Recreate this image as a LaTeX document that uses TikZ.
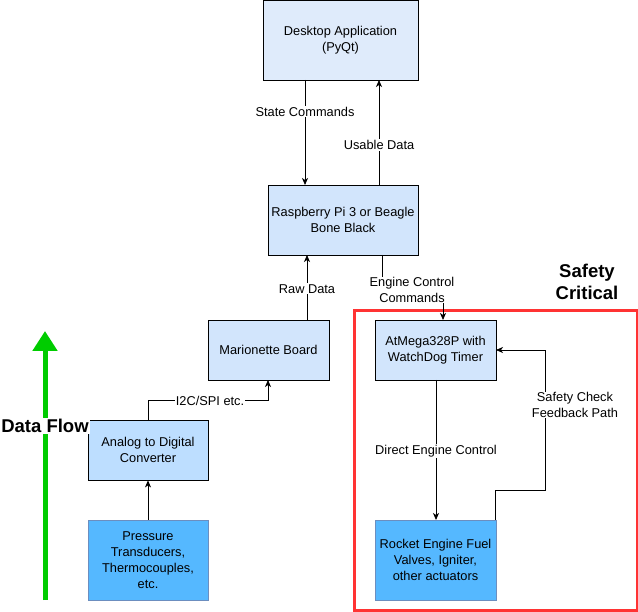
\documentclass[tikz,border=0pt]{standalone}
\usepackage{fontspec}
\setmainfont{Liberation Sans}
\usetikzlibrary{arrows.meta}
\definecolor{cDesk}{HTML}{DFEBFB}
\definecolor{cPi}{HTML}{D2E5FC}
\definecolor{cAdc}{HTML}{BDDEFF}
\definecolor{cDev}{HTML}{55B8FF}
\definecolor{cDevB}{HTML}{6C8EBF}
\definecolor{cRed}{HTML}{FF3333}
\definecolor{cGreen}{HTML}{00CC00}
\tikzset{
  box/.style={draw=black, line width=0.8pt, align=center, font=\fontsize{12.8}{16}\selectfont, inner sep=0pt},
  devbox/.style={box, draw=cDevB, fill=cDev},
  conn/.style={line width=0.8pt, -{Stealth[length=7pt,width=6pt,inset=2pt]}},
  lbl/.style={fill=white, inner sep=1pt, align=center, font=\fontsize{12.8}{15.5}\selectfont},
  big/.style={font=\bfseries\fontsize{18.5}{22}\selectfont, align=center}
}
\begin{document}
\begin{tikzpicture}[x=1pt,y=-1pt]
\useasboundingbox (0,0) rectangle (638,612);
% boxes
\node[box, fill=cDesk, minimum width=155pt, minimum height=80pt] (desk) at (340.5,40) {Desktop Application\\(PyQt)};
\node[box, fill=cPi, minimum width=150pt, minimum height=70pt] (pi) at (343,220) {Raspberry Pi 3 or Beagle\\Bone Black};
\node[box, fill=cPi, minimum width=121pt, minimum height=60pt] (mar) at (268.5,350) {Marionette Board};
\node[box, fill=cAdc, minimum width=120pt, minimum height=60pt] (adc) at (148,450) {Analog to Digital\\Converter};
\node[devbox, minimum width=120pt, minimum height=80pt] (sens) at (148,560) {Pressure\\Transducers,\\Thermocouples,\\etc.};
\node[box, fill=cPi, minimum width=121pt, minimum height=60pt] (atm) at (435.5,350) {AtMega328P with\\WatchDog Timer};
\node[devbox, minimum width=121pt, minimum height=80pt] (rock) at (435.5,560) {Rocket Engine Fuel\\Valves, Igniter,\\other actuators};
% safety critical region
\node[draw=cRed, line width=3pt, minimum width=283pt, minimum height=299pt, inner sep=0pt] (zone) at (495.5,460.5) {};
\node[big] (sc) at (587,282) {Safety\\Critical};
% connectors
\coordinate (dsl) at (305,80);
\coordinate (psl) at (305,185);
\draw[conn] (dsl) -- node[lbl, pos=0.3] (lsc) {State Commands} (psl);
\coordinate (pul) at (379,185);
\coordinate (dul) at (379,80);
\draw[conn] (pul) -- node[lbl, pos=0.38] (lud) {Usable Data} (dul);
\coordinate (mrd) at (307,320);
\coordinate (prd) at (307,255);
\draw[conn] (mrd) -- node[lbl, pos=0.48] (lrd) {Raw Data} (prd);
\coordinate (pec) at (382,255);
\coordinate (aec) at (443,320);
\draw[conn] (pec) |- (412,290) -| (aec);
\node[lbl] (lec) at (412,290) {Engine Control\\Commands};
\coordinate (aa) at (148,420);
\coordinate (mb) at (268,380);
\draw[conn] (aa) |- (210,400) -| (mb);
\node[lbl, inner ysep=0pt] (li2c) at (210,401) {I2C/SPI etc.};
\draw[conn] (sens) -- (adc);
\coordinate (ad) at (436,380);
\coordinate (rd) at (436,520);
\draw[conn] (ad) -- node[lbl, pos=0.51] (ldec) {Direct Engine Control} (rd);
\coordinate (rf) at (495,520);
\coordinate (af) at (496,350);
\draw[conn] (rf) -- (495,490) -- (545,490) -- (545,350) -- (af);
\node[lbl] (lsf) at (575,405) {Safety Check\\Feedback Path};
% data flow arrow
\coordinate (gf0) at (45,600);
\coordinate (gf1) at (45,331);
\draw[cGreen, line width=5pt, -{Triangle[length=20pt,width=24pt]}] (gf0) -- (gf1);
\node[big, fill=white, inner sep=1pt] (df) at (45,426) {Data Flow};
\end{tikzpicture}
\end{document}
